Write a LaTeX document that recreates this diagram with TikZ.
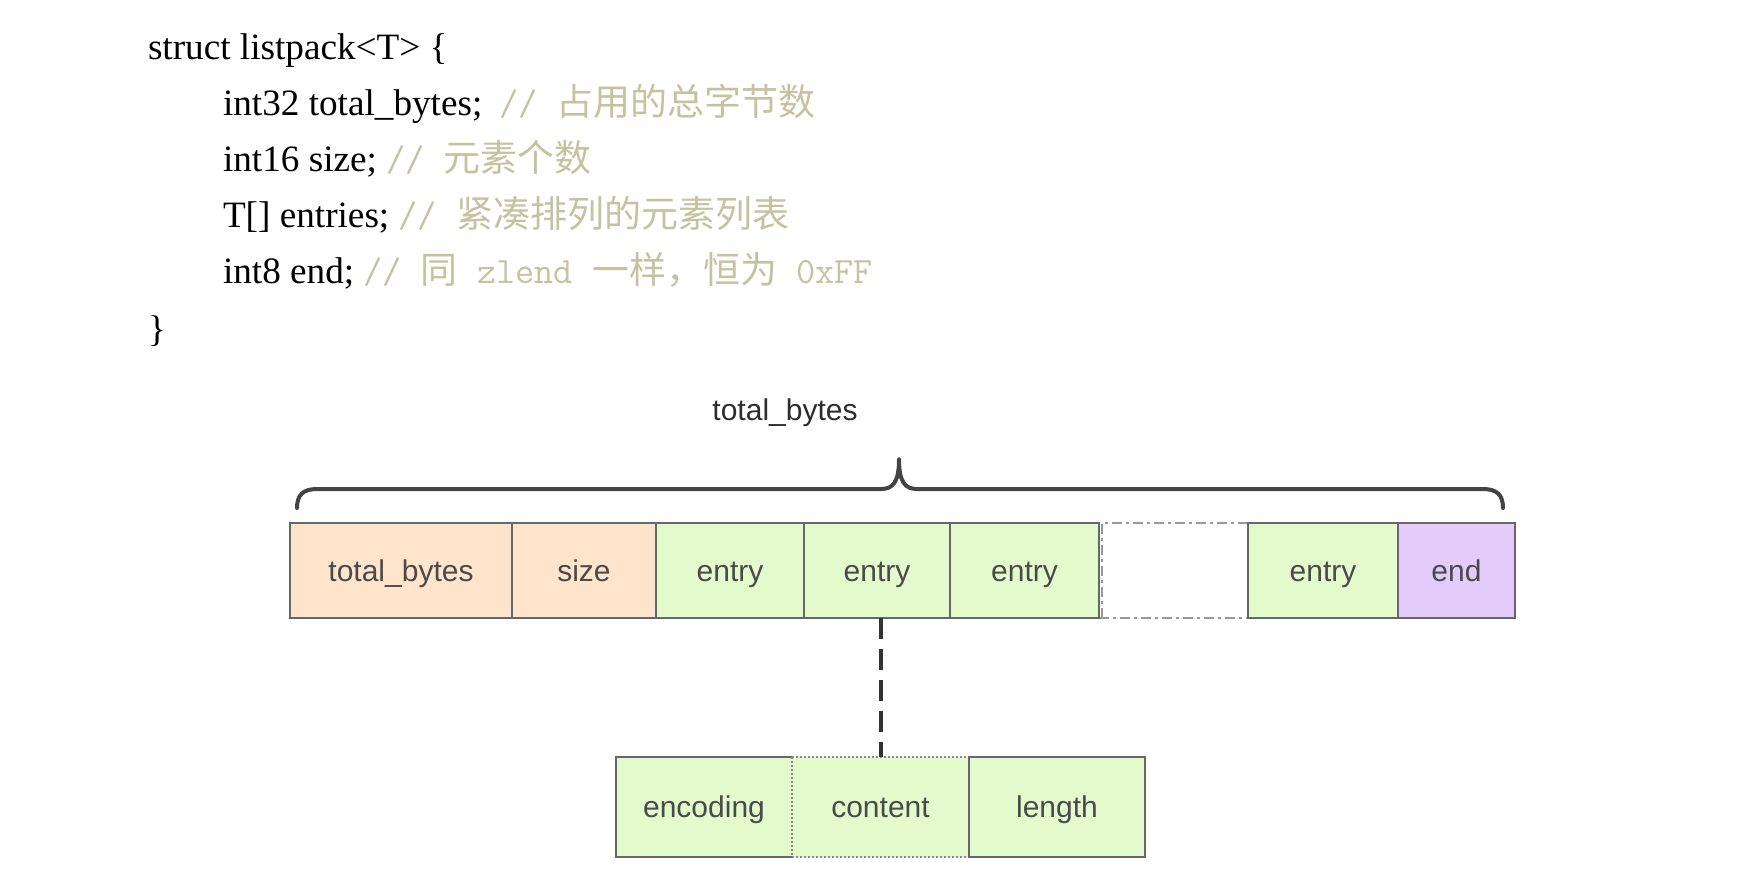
\documentclass[tikz,border=0pt]{standalone}
\usepackage{fontspec}
\setmainfont{Liberation Serif}
\setsansfont{Liberation Sans}
\newfontfamily\cjkfont{Noto Sans CJK SC}
\definecolor{cmtc}{HTML}{C6C2A0}
\definecolor{peachc}{HTML}{FDE4CB}
\definecolor{greenc}{HTML}{E3FBCC}
\definecolor{purplec}{HTML}{E4CCFA}
\definecolor{bordc}{HTML}{676767}
\definecolor{txtc}{HTML}{4A4A4A}
\definecolor{lblc}{HTML}{2E2E2E}
\definecolor{bracec}{HTML}{444444}
\definecolor{connc}{HTML}{333333}
\definecolor{gapc}{HTML}{999999}
\definecolor{dotc}{HTML}{888888}
\newcommand{\mycmt}[1]{{\color{cmtc}\fontsize{18.6pt}{22pt}\ttfamily #1}}
\newcommand{\myzh}[1]{{\fontsize{18.5pt}{22pt}\cjkfont #1}}
\tikzset{
  codeline/.style={anchor=base west, inner sep=0pt, outer sep=0pt, font=\fontsize{18.6pt}{22pt}\selectfont},
  cellbase/.style={anchor=north west, inner sep=0pt, outer sep=0pt,
    font=\sffamily\fontsize{15pt}{18pt}\selectfont, text=txtc,
    text height=12pt, text depth=1.5pt},
  cell/.style={cellbase, draw=bordc, line width=1.4pt, minimum height=47.5pt},
  lowcell/.style={cellbase, minimum height=50pt},
  hdrfill/.style={fill=peachc},
  entfill/.style={fill=greenc},
  endfill/.style={fill=purplec},
  solidedge/.style={draw=bordc, line width=1.4pt},
  gapedge/.style={draw=gapc, line width=1.4pt, dash pattern=on 5pt off 2pt on 1.5pt off 2pt},
  dotedge/.style={draw=dotc, line width=1pt, dash pattern=on 1pt off 1pt},
  bracepath/.style={draw=bracec, line width=2pt, line join=round, line cap=round},
  conn/.style={draw=connc, line width=2pt, dash pattern=on 10.5pt off 5pt},
  toplabel/.style={inner sep=0pt, anchor=base, font=\sffamily\fontsize{15pt}{18pt}\selectfont, text=lblc}
}
\begin{document}
\begin{tikzpicture}[x=0.5pt,y=-0.5pt]
\useasboundingbox[fill=white] (0,0) rectangle (1750,894);

% code text
\node[codeline] (l1) at (148,59) {struct listpack<T> \{};
\node[codeline] (l2) at (223,115) {int32 total\_bytes;\hspace{8.5pt}\mycmt{// \myzh{占用的总字节数}}};
\node[codeline] (l3) at (223,171) {int16 size; \mycmt{// \myzh{元素个数}}};
\node[codeline] (l4) at (223,227) {T[] entries; \mycmt{// \myzh{紧凑排列的元素列表}}};
\node[codeline] (l5) at (223,283) {int8 end; \mycmt{// \myzh{同} zlend \myzh{一样，恒为} 0xFF}};
\node[codeline] (l6) at (148,341) {\}};

% label above brace
\node[toplabel] (lbl) at (785,420) {total\_bytes};

% brace
\draw[bracepath] (297,508) .. controls (297,495) and (303,489) .. (317,489)
  -- (881,489) .. controls (893,489) and (899,482) .. (899,459)
  .. controls (899,482) and (905,489) .. (917,489)
  -- (1483,489) .. controls (1497,489) and (1503,495) .. (1503,508);

% blank gap region
\node[cellbase, minimum width=74.5pt, minimum height=47.5pt] (gap) at (1099,523) {};
\draw[gapedge] ([xshift=1.5pt]gap.south west) -- ([xshift=1.5pt]gap.north west) -- (gap.north east);
\draw[gapedge] (gap.south west) -- (gap.south east);

% top row
\node[cell, hdrfill, minimum width=111pt] (tb) at (290,523) {total\_bytes};
\node[cell, hdrfill, minimum width=72pt] (sz) at (512,523) {size};
\node[cell, entfill, minimum width=74pt] (e1) at (656,523) {entry};
\node[cell, entfill, minimum width=73pt] (e2) at (804,523) {entry};
\node[cell, entfill, minimum width=74.5pt] (e3) at (950,523) {entry};
\node[cell, entfill, minimum width=75pt] (e4) at (1248,523) {entry};
\node[cell, endfill, minimum width=58.5pt] (endb) at (1398,523) {end};

% bottom row
\node[lowcell, entfill, minimum width=88pt] (enc) at (616,757) {encoding};
\draw[solidedge] (enc.north east) -- (enc.north west) -- (enc.south west) -- (enc.south east);
\node[lowcell, entfill, minimum width=88.5pt] (cont) at (792,757) {content};
\draw[dotedge] (cont.north west) rectangle (cont.south east);
\node[lowcell, entfill, solidedge, minimum width=88pt] (len) at (969,757) {length};

% connector
\draw[conn] (cont.north |- e2.south) -- (cont.north);
\end{tikzpicture}
\end{document}
